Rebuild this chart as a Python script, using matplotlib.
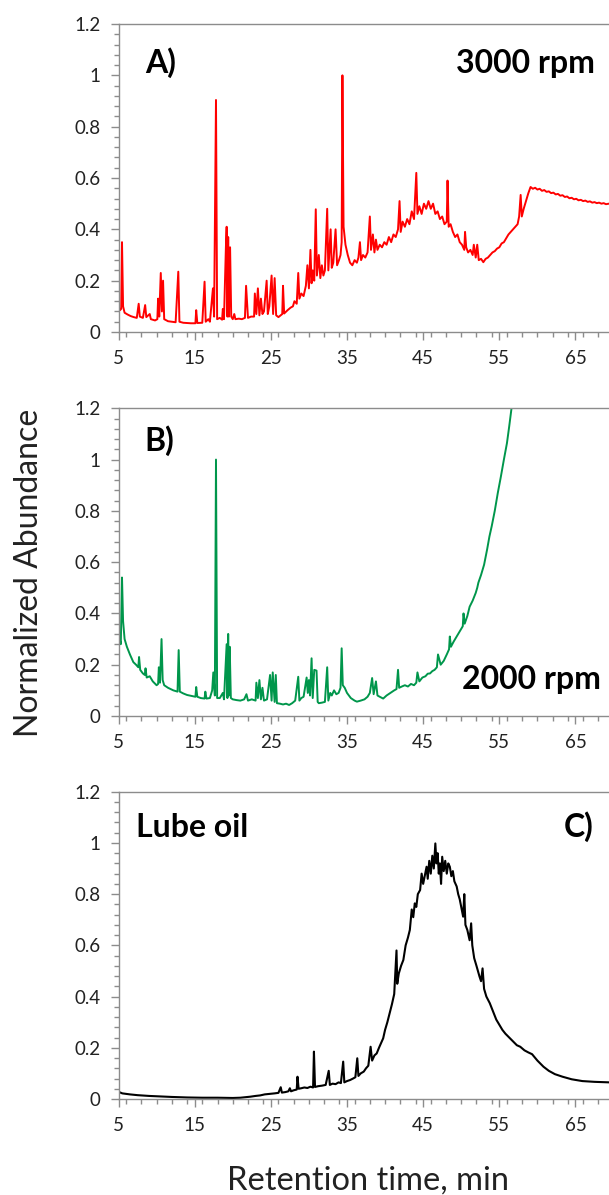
import numpy as np
import matplotlib
matplotlib.use('Agg')
import matplotlib.pyplot as plt
from matplotlib.ticker import MultipleLocator, FormatStrFormatter

plt.rcParams['font.family'] = ['Lato', 'DejaVu Sans']

# A) 3000 rpm
a_time = [5.0, 5.2, 5.35, 5.46, 5.6, 5.8, 6.2, 6.6, 7.0, 7.4,
          7.65, 7.8, 8.2, 8.5, 8.65, 9.1, 9.25, 9.8, 10.1, 10.2,
          10.35, 10.55, 10.7, 10.85, 11.0, 11.5, 12.0, 12.5, 12.85, 13.0,
          13.5, 14.0, 14.5, 15.1, 15.2, 15.35, 16.0, 16.3, 16.45, 16.8,
          17.0, 17.4, 17.55, 17.8, 17.95, 18.3, 18.6, 18.7, 18.85, 19.1,
          19.2, 19.3, 19.4, 19.5, 19.65, 19.8, 20.0, 20.2, 20.35, 20.8,
          21.2, 21.6, 21.75, 22.0, 22.4, 22.8, 22.9, 23.1, 23.3, 23.5,
          23.7, 23.9, 24.1, 24.45, 24.6, 24.8, 25.1, 25.3, 25.5, 25.7,
          26.0, 26.5, 26.6, 26.75, 27.2, 27.6, 27.9, 28.1, 28.4, 28.6,
          28.75, 29.0, 29.3, 29.6, 29.8, 30.0, 30.2, 30.35, 30.5, 30.7,
          30.9, 31.05, 31.3, 31.5, 31.7, 31.9, 32.1, 32.4, 32.55, 32.85,
          33.0, 33.2, 33.5, 33.7, 33.95, 34.15, 34.3, 34.4, 34.55, 34.8,
          35.1, 35.4, 35.7, 36.0, 36.3, 36.5, 36.7, 36.85, 37.1, 37.4,
          37.7, 38.0, 38.15, 38.4, 38.6, 38.8, 39.0, 39.3, 39.6, 39.9,
          40.2, 40.5, 40.8, 41.1, 41.4, 41.7, 41.9, 42.05, 42.3, 42.6,
          42.9, 43.2, 43.5, 43.8, 44.1, 44.25, 44.5, 44.8, 45.1, 45.4,
          45.7, 46.0, 46.3, 46.6, 46.9, 47.2, 47.5, 47.8, 48.1, 48.2,
          48.35, 48.6, 48.9, 49.2, 49.5, 49.8, 50.1, 50.4, 50.5, 50.65,
          50.9, 51.2, 51.5, 51.65, 51.9, 52.1, 52.3, 52.6, 52.9, 53.2,
          53.5, 53.8, 54.1, 54.4, 54.7, 55.0, 55.3, 55.6, 55.9, 56.2,
          56.5, 56.8, 57.1, 57.4, 57.6, 57.8, 57.95, 58.2, 58.5, 58.8,
          59.1, 59.4, 59.7, 60.0, 60.3, 60.6, 60.9, 61.2, 61.5, 61.8,
          62.1, 62.4, 62.7, 63.0, 63.3, 63.6, 63.9, 64.2, 64.5, 64.8,
          65.1, 65.4, 65.7, 66.0, 66.3, 66.6, 66.9, 67.2, 67.5, 67.8,
          68.1, 68.4, 68.7, 69.0, 69.4]
a_abund = [0.10, 0.085, 0.09, 0.35, 0.10, 0.075, 0.068, 0.062, 0.058, 0.055,
           0.11, 0.06, 0.055, 0.105, 0.058, 0.07, 0.05, 0.045, 0.05, 0.13,
           0.06, 0.23, 0.08, 0.20, 0.05, 0.042, 0.04, 0.038, 0.235, 0.04,
           0.036, 0.035, 0.034, 0.034, 0.085, 0.035, 0.036, 0.196, 0.04, 0.05,
           0.04, 0.17, 0.06, 0.904, 0.05, 0.055, 0.048, 0.09, 0.05, 0.33,
           0.41, 0.06, 0.37, 0.06, 0.33, 0.06, 0.05, 0.07, 0.05, 0.052,
           0.05, 0.055, 0.18, 0.055, 0.06, 0.06, 0.15, 0.07, 0.17, 0.065,
           0.13, 0.07, 0.08, 0.20, 0.07, 0.10, 0.22, 0.07, 0.21, 0.065,
           0.058, 0.07, 0.18, 0.072, 0.085, 0.095, 0.10, 0.12, 0.11, 0.23,
           0.13, 0.15, 0.14, 0.18, 0.26, 0.17, 0.32, 0.19, 0.24, 0.20,
           0.478, 0.22, 0.30, 0.21, 0.26, 0.22, 0.24, 0.48, 0.24, 0.40,
           0.25, 0.27, 0.40, 0.26, 0.28, 0.30, 0.35, 1.0, 0.41, 0.34,
           0.30, 0.27, 0.26, 0.28, 0.27, 0.29, 0.35, 0.28, 0.30, 0.29,
           0.31, 0.45, 0.32, 0.38, 0.31, 0.36, 0.32, 0.34, 0.33, 0.35,
           0.34, 0.37, 0.35, 0.38, 0.37, 0.40, 0.51, 0.39, 0.43, 0.41,
           0.44, 0.42, 0.47, 0.44, 0.62, 0.46, 0.49, 0.46, 0.50, 0.48,
           0.51, 0.48, 0.50, 0.46, 0.47, 0.44, 0.45, 0.42, 0.43, 0.59,
           0.41, 0.42, 0.39, 0.37, 0.38, 0.35, 0.34, 0.32, 0.39, 0.33,
           0.31, 0.32, 0.30, 0.34, 0.29, 0.34, 0.28, 0.285, 0.272, 0.285,
           0.29, 0.30, 0.31, 0.315, 0.325, 0.33, 0.345, 0.35, 0.365, 0.38,
           0.39, 0.40, 0.41, 0.42, 0.45, 0.534, 0.45, 0.48, 0.51, 0.54,
           0.565, 0.558, 0.562, 0.555, 0.558, 0.55, 0.553, 0.546, 0.548, 0.541,
           0.543, 0.536, 0.538, 0.531, 0.533, 0.526, 0.528, 0.521, 0.523, 0.517,
           0.519, 0.513, 0.515, 0.51, 0.512, 0.507, 0.509, 0.504, 0.506, 0.502,
           0.504, 0.5, 0.502, 0.498, 0.5]

# B) 2000 rpm
b_time = [5.0, 5.15, 5.3, 5.46, 5.6, 5.8, 6.1, 6.5, 6.95, 7.3,
          7.6, 7.7, 7.85, 8.2, 8.45, 8.55, 8.7, 9.1, 9.5, 10.0,
          10.2, 10.3, 10.45, 10.65, 10.8, 11.0, 11.5, 12.2, 12.75, 12.9,
          13.05, 13.5, 14.0, 14.6, 15.1, 15.2, 15.35, 15.8, 16.3, 16.4,
          16.55, 17.0, 17.3, 17.45, 17.65, 17.8, 17.95, 18.3, 18.7, 18.85,
          19.2, 19.3, 19.4, 19.5, 19.6, 19.75, 20.0, 20.5, 21.0, 21.5,
          21.8, 22.0, 22.5, 23.0, 23.1, 23.3, 23.5, 23.7, 23.9, 24.1,
          24.5, 24.9, 25.1, 25.25, 25.5, 25.65, 25.8, 26.2, 26.6, 27.0,
          27.4, 27.8, 28.2, 28.6, 28.75, 29.0, 29.3, 29.7, 29.85, 30.0,
          30.15, 30.35, 30.5, 30.7, 31.0, 31.15, 31.3, 31.7, 32.1, 32.4,
          32.55, 32.8, 33.0, 33.3, 33.6, 33.9, 34.15, 34.3, 34.45, 34.7,
          35.0, 35.5, 36.0, 36.3, 36.8, 37.3, 37.7, 38.0, 38.3, 38.5,
          38.8, 39.0, 39.3, 39.75, 40.2, 40.7, 41.2, 41.5, 41.7, 41.85,
          42.2, 42.6, 43.0, 43.4, 43.8, 44.1, 44.25, 44.5, 44.9, 45.3,
          45.6, 45.9, 46.2, 46.5, 46.8, 46.95, 47.3, 47.7, 48.1, 48.4,
          48.5, 48.65, 49.0, 49.4, 49.8, 50.2, 50.3, 50.45, 50.8, 51.1,
          51.5, 51.9, 52.1, 52.25, 52.6, 53.0, 53.4, 53.7, 54.0, 54.4,
          54.8, 55.2, 55.6, 56.0, 56.3, 56.6, 57.0, 57.5]
b_abund = [0.35, 0.30, 0.28, 0.54, 0.37, 0.30, 0.27, 0.24, 0.21, 0.20,
           0.19, 0.23, 0.18, 0.166, 0.16, 0.186, 0.15, 0.155, 0.135, 0.12,
           0.125, 0.19, 0.13, 0.30, 0.14, 0.12, 0.11, 0.10, 0.095, 0.257,
           0.095, 0.088, 0.082, 0.078, 0.075, 0.113, 0.075, 0.07, 0.068, 0.095,
           0.068, 0.07, 0.10, 0.17, 0.08, 1.0, 0.07, 0.07, 0.09, 0.065,
           0.28, 0.07, 0.32, 0.08, 0.27, 0.07, 0.065, 0.062, 0.06, 0.065,
           0.085, 0.06, 0.065, 0.06, 0.13, 0.07, 0.14, 0.065, 0.11, 0.06,
           0.065, 0.16, 0.06, 0.17, 0.055, 0.16, 0.05, 0.048, 0.045, 0.048,
           0.043, 0.05, 0.06, 0.153, 0.06, 0.07, 0.075, 0.15, 0.09, 0.14,
           0.08, 0.225, 0.07, 0.18, 0.177, 0.055, 0.05, 0.052, 0.055, 0.19,
           0.06, 0.09, 0.08, 0.10, 0.085, 0.09, 0.11, 0.264, 0.12, 0.11,
           0.09, 0.07, 0.06, 0.056, 0.06, 0.065, 0.075, 0.09, 0.148, 0.085,
           0.135, 0.08, 0.075, 0.068, 0.08, 0.09, 0.10, 0.105, 0.18, 0.11,
           0.115, 0.12, 0.115, 0.125, 0.12, 0.13, 0.17, 0.135, 0.15, 0.155,
           0.165, 0.166, 0.175, 0.18, 0.19, 0.24, 0.2, 0.215, 0.24, 0.26,
           0.31, 0.27, 0.29, 0.31, 0.33, 0.35, 0.40, 0.36, 0.39, 0.426,
           0.45, 0.48, 0.50, 0.52, 0.55, 0.59, 0.65, 0.70, 0.74, 0.80,
           0.87, 0.933, 1.0, 1.064, 1.13, 1.2, 1.3, 1.45]

# C) Lube oil
c_time = [5.0, 5.5, 6.5, 7.5, 9.0, 10.5, 12.0, 14.0, 16.0, 18.0,
          20.0, 21.0, 22.3, 23.0, 23.6, 24.2, 24.9, 25.5, 26.0, 26.3,
          26.45, 26.9, 27.3, 27.5, 27.65, 28.0, 28.4, 28.5, 28.65, 29.0,
          29.4, 29.8, 30.2, 30.55, 30.66, 30.8, 31.2, 31.7, 32.2, 32.6,
          32.75, 33.1, 33.5, 33.9, 34.2, 34.5, 34.65, 35.0, 35.4, 35.8,
          36.1, 36.35, 36.5, 36.8, 37.2, 37.5, 37.8, 38.1, 38.3, 38.6,
          38.9, 39.2, 39.5, 39.75, 40.0, 40.3, 40.6, 40.9, 41.2, 41.5,
          41.6, 41.8, 42.1, 42.4, 42.7, 43.0, 43.25, 43.5, 43.7, 43.9,
          44.1, 44.3, 44.6, 44.8, 45.0, 45.2, 45.45, 45.6, 45.8, 46.0,
          46.2, 46.4, 46.6, 46.75, 46.9, 47.05, 47.2, 47.35, 47.5, 47.7,
          47.9, 48.1, 48.3, 48.5, 48.7, 48.9, 49.1, 49.4, 49.6, 49.8,
          50.0, 50.25, 50.4, 50.55, 50.8, 51.1, 51.3, 51.45, 51.7, 52.0,
          52.4, 52.6, 52.8, 53.0, 53.3, 53.75, 54.2, 54.6, 55.0, 55.4,
          55.8, 56.3, 56.8, 57.3, 57.75, 58.3, 58.8, 59.3, 60.0, 60.8,
          61.5, 62.3, 63.3, 64.5, 65.9, 67.5, 69.4]
c_abund = [0.028, 0.022, 0.018, 0.015, 0.012, 0.010, 0.008, 0.006, 0.005, 0.005,
           0.004, 0.005, 0.009, 0.012, 0.014, 0.018, 0.02, 0.022, 0.024, 0.046,
           0.025, 0.027, 0.03, 0.042, 0.03, 0.034, 0.037, 0.087, 0.04, 0.042,
           0.045, 0.043, 0.048, 0.045, 0.185, 0.047, 0.05, 0.052, 0.055, 0.11,
           0.055, 0.06, 0.058, 0.065, 0.062, 0.146, 0.065, 0.07, 0.074, 0.08,
           0.085, 0.159, 0.09, 0.10, 0.107, 0.12, 0.13, 0.204, 0.15, 0.17,
           0.178, 0.20, 0.22, 0.237, 0.27, 0.30, 0.335, 0.37, 0.41, 0.58,
           0.45, 0.49, 0.52, 0.543, 0.60, 0.63, 0.66, 0.74, 0.71, 0.764,
           0.75, 0.80, 0.816, 0.88, 0.84, 0.87, 0.907, 0.86, 0.93, 0.88,
           0.95, 0.90, 0.998, 0.92, 0.96, 0.88, 0.92, 0.84, 0.946, 0.89,
           0.93, 0.88, 0.92, 0.907, 0.87, 0.89, 0.85, 0.83, 0.80, 0.78,
           0.75, 0.712, 0.80, 0.68, 0.66, 0.62, 0.686, 0.60, 0.55, 0.52,
           0.478, 0.46, 0.51, 0.43, 0.40, 0.374, 0.34, 0.31, 0.29, 0.27,
           0.255, 0.24, 0.225, 0.21, 0.204, 0.19, 0.182, 0.175, 0.15, 0.126,
           0.11, 0.097, 0.087, 0.077, 0.07, 0.067, 0.065]

x_ticks = [5, 15, 25, 35, 45, 55, 65]
y_ticks = [0, 0.2, 0.4, 0.6, 0.8, 1.0, 1.2]

W, H = 609, 1195
fig = plt.figure(figsize=(W / 100, H / 100), dpi=100)


def make_axes(top_px, bottom_px):
    left = 118.5 / W
    return fig.add_axes([left, 1 - bottom_px / H, 1 - left, (bottom_px - top_px) / H])


def style(ax):
    ax.set_xticks(x_ticks)
    ax.set_yticks(y_ticks)
    ax.set_xlim(5, 69.4)
    ax.set_ylim(0, 1.2)
    ax.xaxis.set_minor_locator(MultipleLocator(2))
    ax.yaxis.set_minor_locator(MultipleLocator(0.04))
    ax.yaxis.set_major_formatter(FormatStrFormatter('%g'))
    for s in ['left', 'bottom', 'top']:
        ax.spines[s].set_color('#8c8c8c')
        ax.spines[s].set_linewidth(1.0)
    ax.spines['right'].set_visible(False)
    ax.tick_params(which='both', direction='out', color='#8c8c8c', width=1.0,
                   labelsize=13.5, labelcolor='#222222')
    ax.tick_params(which='major', length=6)
    ax.tick_params(which='minor', length=3.5)
    ax.tick_params(axis='x', pad=7)
    ax.tick_params(axis='y', pad=7)


ax1 = make_axes(24, 332)
ax1.plot(a_time, a_abund, color='#ff0000', lw=1.4)
style(ax1)
ax1.text(8.45, 1.048, 'A)', fontsize=23, fontweight='bold', ha='left', va='center')
ax1.text(67.5, 1.048, '3000 rpm', fontsize=23, fontweight='bold', ha='right', va='center')

ax2 = make_axes(408.3, 716)
ax2.plot(b_time, b_abund, color='#00964b', lw=1.4)
style(ax2)
ax2.text(8.45, 1.073, 'B)', fontsize=23, fontweight='bold', ha='left', va='center')
ax2.text(68.3, 0.144, '2000 rpm', fontsize=23, fontweight='bold', ha='right', va='center')

ax3 = make_axes(791.7, 1099)
ax3.plot(c_time, c_abund, color='#000000', lw=1.5)
style(ax3)
ax3.text(7.3, 1.062, 'Lube oil', fontsize=23, fontweight='bold', ha='left', va='center')
ax3.text(67.4, 1.062, 'C)', fontsize=23, fontweight='bold', ha='right', va='center')

fig.text(0.047, 0.521, 'Normalized Abundance', rotation=90, fontsize=23,
         ha='center', va='center', color='#222222')
fig.text(368 / W, 0.0125, 'Retention time, min', fontsize=23.5,
         ha='center', va='center', color='#222222')

fig.savefig('out.png', dpi=100)
